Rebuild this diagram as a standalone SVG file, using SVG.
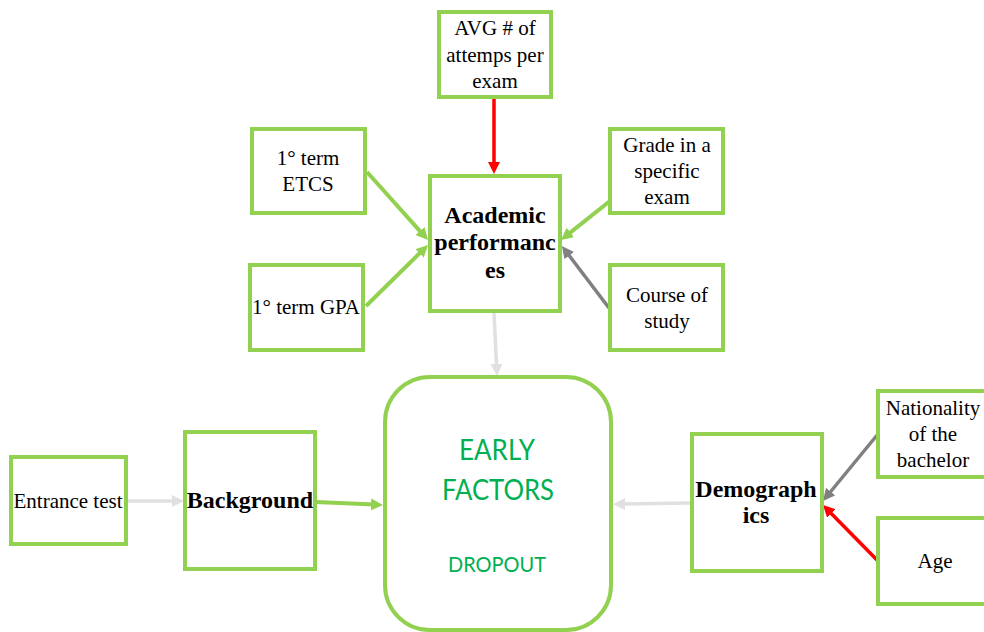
<svg xmlns="http://www.w3.org/2000/svg" width="984" height="632" viewBox="0 0 984 632">
<style>
.box{fill:#fff;stroke:#92D050;stroke-width:4}
.t{font-family:"Liberation Serif","Times New Roman",serif;font-size:21px;fill:#000;text-anchor:middle}
.b{font-family:"Liberation Serif","Times New Roman",serif;font-size:24px;font-weight:bold;fill:#000;text-anchor:middle}
.g{font-family:Lato,"Liberation Sans",sans-serif;fill:#00B050;text-anchor:middle}
.c{fill:none;stroke-width:4}
.cg{stroke:#92D050}
.cr{stroke:#FF0000;stroke-width:3.5}
.cy{stroke:#808080;stroke-width:3.5}
.cl{stroke:#E0E0E0;stroke-width:3.5}
</style>
<defs>
<marker id="ag" markerUnits="userSpaceOnUse" markerWidth="14" markerHeight="14" refX="3" refY="6" orient="auto"><path d="M0,0 L12,6 L0,12 z" fill="#92D050"/></marker>
<marker id="ar" markerUnits="userSpaceOnUse" markerWidth="14" markerHeight="14" refX="3" refY="6" orient="auto"><path d="M0,0 L12,6 L0,12 z" fill="#FF0000"/></marker>
<marker id="ay" markerUnits="userSpaceOnUse" markerWidth="14" markerHeight="14" refX="3" refY="6" orient="auto"><path d="M0,0 L12,6 L0,12 z" fill="#808080"/></marker>
<marker id="al" markerUnits="userSpaceOnUse" markerWidth="14" markerHeight="14" refX="3" refY="6" orient="auto"><path d="M0,0 L12,6 L0,12 z" fill="#E0E0E0"/></marker>
</defs>

<g id="connectors">
<line class="c cr" x1="494" y1="99" x2="494" y2="165" marker-end="url(#ar)"/>
<line class="c cg" x1="367" y1="172" x2="422" y2="233.3" marker-end="url(#ag)"/>
<line class="c cg" x1="366" y1="306" x2="421.6" y2="251.3" marker-end="url(#ag)"/>
<line class="c cg" x1="620" y1="193" x2="568" y2="234.4" marker-end="url(#ag)"/>
<line class="c cy" x1="609" y1="308" x2="567.4" y2="253.2" marker-end="url(#ay)"/>
<line class="c cl" x1="494" y1="313" x2="496.6" y2="367" marker-end="url(#al)"/>
<line class="c cl" x1="127" y1="501" x2="175" y2="501" marker-end="url(#al)"/>
<line class="c cg" x1="316" y1="502" x2="374" y2="504.6" marker-end="url(#ag)"/>
<line class="c cl" x1="690" y1="503" x2="622" y2="504" marker-end="url(#al)"/>
<line class="c cy" x1="878" y1="434" x2="828.7" y2="494" marker-end="url(#ay)"/>
<line class="c cr" x1="878" y1="561" x2="829.3" y2="511.4" marker-end="url(#ar)"/>
</g>

<g id="avg">
<rect class="box" x="439" y="12" width="112" height="85"/>
<text class="t" x="495" y="35">AVG # of</text>
<text class="t" x="495" y="62">attemps per</text>
<text class="t" x="495" y="88">exam</text>
</g>

<g id="etcs">
<rect class="box" x="252" y="129" width="113" height="84"/>
<text class="t" x="308" y="165">1° term</text>
<text class="t" x="308" y="191">ETCS</text>
</g>

<g id="gpa">
<rect class="box" x="250" y="265" width="113" height="85"/>
<text class="t" x="306" y="314">1° term GPA</text>
</g>

<g id="academic">
<rect class="box" x="430" y="176" width="130" height="135"/>
<text class="b" x="495" y="223">Academic</text>
<text class="b" x="495" y="250">performanc</text>
<text class="b" x="495" y="278">es</text>
</g>

<g id="grade">
<rect class="box" x="610" y="129" width="113" height="84"/>
<text class="t" x="667" y="152">Grade in a</text>
<text class="t" x="667" y="178">specific</text>
<text class="t" x="667" y="204">exam</text>
</g>

<g id="course">
<rect class="box" x="610" y="265" width="113" height="85"/>
<text class="t" x="667" y="302">Course of</text>
<text class="t" x="667" y="328">study</text>
</g>

<g id="early">
<rect class="box" x="385" y="377" width="226" height="253" rx="45" ry="45"/>
<text class="g" x="497" y="460" font-size="28" textLength="76" lengthAdjust="spacingAndGlyphs">EARLY</text>
<text class="g" x="498" y="500" font-size="28" textLength="112" lengthAdjust="spacingAndGlyphs">FACTORS</text>
<text class="g" x="497" y="572" font-size="22" textLength="98" lengthAdjust="spacingAndGlyphs">DROPOUT</text>
</g>

<g id="entrance">
<rect class="box" x="11" y="457" width="115" height="87"/>
<text class="t" x="68" y="508">Entrance test</text>
</g>

<g id="background">
<rect class="box" x="185" y="432" width="130" height="137"/>
<text class="b" x="250" y="508">Background</text>
</g>

<g id="demographics">
<rect class="box" x="692" y="434" width="130" height="137"/>
<text class="b" x="756" y="497">Demograph</text>
<text class="b" x="756" y="523">ics</text>
</g>

<g id="nationality">
<rect class="box" x="878" y="391" width="120" height="86"/>
<text class="t" x="933" y="415">Nationality</text>
<text class="t" x="933" y="441">of the</text>
<text class="t" x="933" y="467">bachelor</text>
</g>

<g id="age">
<rect class="box" x="878" y="518" width="120" height="86"/>
<text class="t" x="935" y="568">Age</text>
</g>
</svg>
